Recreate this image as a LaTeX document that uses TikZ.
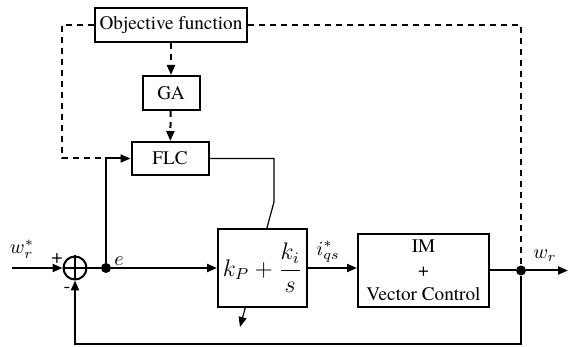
\documentclass[tikz,border=0pt]{standalone}
\usepackage{fontspec}
\setmainfont{texgyretermes}[Extension=.otf, UprightFont=*-regular,
  ItalicFont=*-italic, BoldFont=*-bold, BoldItalicFont=*-bolditalic]
\usepackage{tikz}
\usetikzlibrary{arrows.meta,positioning}

\begin{document}
\begin{tikzpicture}[x=0.5pt, y=-0.5pt,
      blk/.style={draw, line width=1pt, fill=white, inner sep=0pt,
                  font=\fontsize{9.6}{12}\selectfont, align=center},
      arr/.style={-{Triangle[length=5pt,width=4pt]}, line width=1pt},
      fb/.style={line width=1pt, dash pattern=on 3pt off 2.5pt},
      fba/.style={fb, -{Triangle[length=5pt,width=4pt]}},
      jdot/.style={circle, fill, inner sep=0pt, minimum size=5pt},
      lbl/.style={inner sep=0pt, font=\fontsize{10}{12}\selectfont}
  ]
    \useasboundingbox (0,0) rectangle (569,347);
    % optimisation loop
    \node[blk, minimum width=76pt, minimum height=17pt] (obj) at (171,25) {Objective function};
    \node[blk, minimum width=28.5pt, minimum height=17pt] (ga) at (171,93) {GA};
    \node[blk, minimum width=38.5pt, minimum height=16.5pt] (flc) at (170,158.5) {FLC};
    \draw[fba] (obj) -- (ga); \draw[fba] (ga) -- (flc);
    % gain adjustment through the controller
    \coordinate (gA) at (274,202);
    \coordinate (gB) at (240,327);
    \draw[line width=0.6pt, -{Triangle[length=5pt,width=4pt]}] (flc.east) -| (gA) -- (gB);
    % main loop
    \node[blk, minimum width=44.5pt, minimum height=39pt,
          font=\fontsize{12}{14}\selectfont] (pi) at (262.5,268) {$\displaystyle k_P+\frac{k_i}{s}$};
    \node[blk, minimum width=65.5pt, minimum height=36.5pt] (im) at (423.5,270.5) {IM\\+\\Vector Control};
    \node[circle, draw, line width=1pt, minimum size=11.5pt, inner sep=0pt] (sum) at (75,268) {};
    \draw[line width=0.8pt] (sum.north) -- (sum.south) (sum.west) -- (sum.east);
    \node[jdot] (ej) at (106,268) {};
    \node[jdot] (wj) at (521,270.5) {};
    \coordinate (in) at (12,268);
    \coordinate (out) at (568,270.5);
    \coordinate (lc) at (62,158.5);
    \draw[arr] (in) -- (sum.west);
    \draw[line width=1pt] (sum.east) -- (ej);
    \draw[arr] (ej) -- (pi.west);
    \draw[arr] (ej) |- (flc.west);
    \draw[fb] (obj.west) -| (lc) -- (lc -| ej);
    \draw[arr] (pi.east) -- (pi.east -| im.west);
    \draw[line width=1pt] (im.east) -- (wj);
    \draw[arr] (wj) -- (out);
    \draw[fb] (obj.east) -| (wj);
    \draw[arr] (wj) -- ++(0,73.5) -| (sum.south);
    % labels
    \node[lbl] (lw) at (22,249) {$w_r^{*}$};
    \node[lbl] (lp) at (57,259) {+};
    \node[lbl] (lm) at (67,290) {-};
    \node[lbl] (le) at (119,261) {$e$};
    \node[lbl] (li) at (328,252) {$i_{qs}^{*}$};
    \node[lbl] (lr) at (545,256) {$w_r$};
\end{tikzpicture}
\end{document}
